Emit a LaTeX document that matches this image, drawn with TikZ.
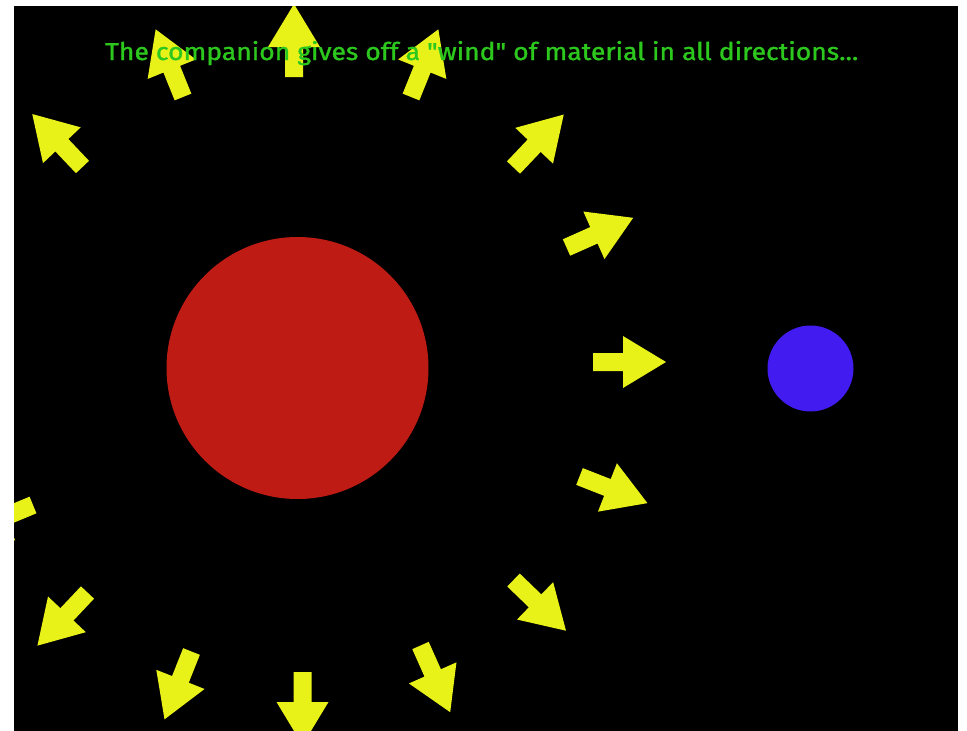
\documentclass[tikz,border=0pt]{standalone}
\usepackage{fontspec}
\setmainfont{Fira Sans}
\newfontfamily\captionfont[FakeBold=1.2]{Fira Sans}
\definecolor{windyellow}{RGB}{232,242,24}
\definecolor{starred}{RGB}{190,27,20}
\definecolor{compblue}{RGB}{66,27,240}
\definecolor{captiongreen}{RGB}{45,200,30}
\tikzset{
  windfill/.style={fill=windyellow},
  panel/.style={fill=black},
}
% tail x, tail y, angle (degrees, counter-clockwise)
\newcommand\windarrow[3]{%
  \fill[windfill, shift={(#1,#2)}, rotate=#3]
    (0,-9) -- (30,-9) -- (30,-26) -- (73,0) -- (30,26) -- (30,9) -- (0,9) -- cycle;}
\begin{document}
\begin{tikzpicture}[x=1pt,y=-1pt]
  \useasboundingbox (0,0) rectangle (967,731);
  \fill[white] (0,0) rectangle (967,731);
  \fill[panel] (14,6) rectangle (958,731);
  \begin{scope}
    \clip (14,6) rectangle (958,731);
    % star and companion
    \fill[starred] (297.5,368) circle[radius=131];
    \fill[compblue] (810.5,368.5) circle[radius=43];
    % wind arrows
    \windarrow{593}{362}{0}
    \windarrow{566.5}{247.5}{24}
    \windarrow{513.5}{167.5}{46.5}
    \windarrow{411}{97}{68}
    \windarrow{294}{77}{90}
    \windarrow{183}{97}{112}
    \windarrow{82.5}{167}{133.5}
    \windarrow{33}{505}{202.5}
    \windarrow{87.5}{592.5}{226.7}
    \windarrow{191.5}{651.5}{248.3}
    \windarrow{302.5}{672}{270}
    \windarrow{420.5}{645.5}{294}
    \windarrow{513.5}{580}{316}
    \windarrow{579.5}{476.5}{338.6}
  \end{scope}
  \node[anchor=base west, inner sep=0pt, text=captiongreen] (caption) at (105,60)
    {\resizebox{753pt}{19pt}{\captionfont The companion gives off a \textquotedbl wind\textquotedbl{} of material in all directions...}};
\end{tikzpicture}
\end{document}
